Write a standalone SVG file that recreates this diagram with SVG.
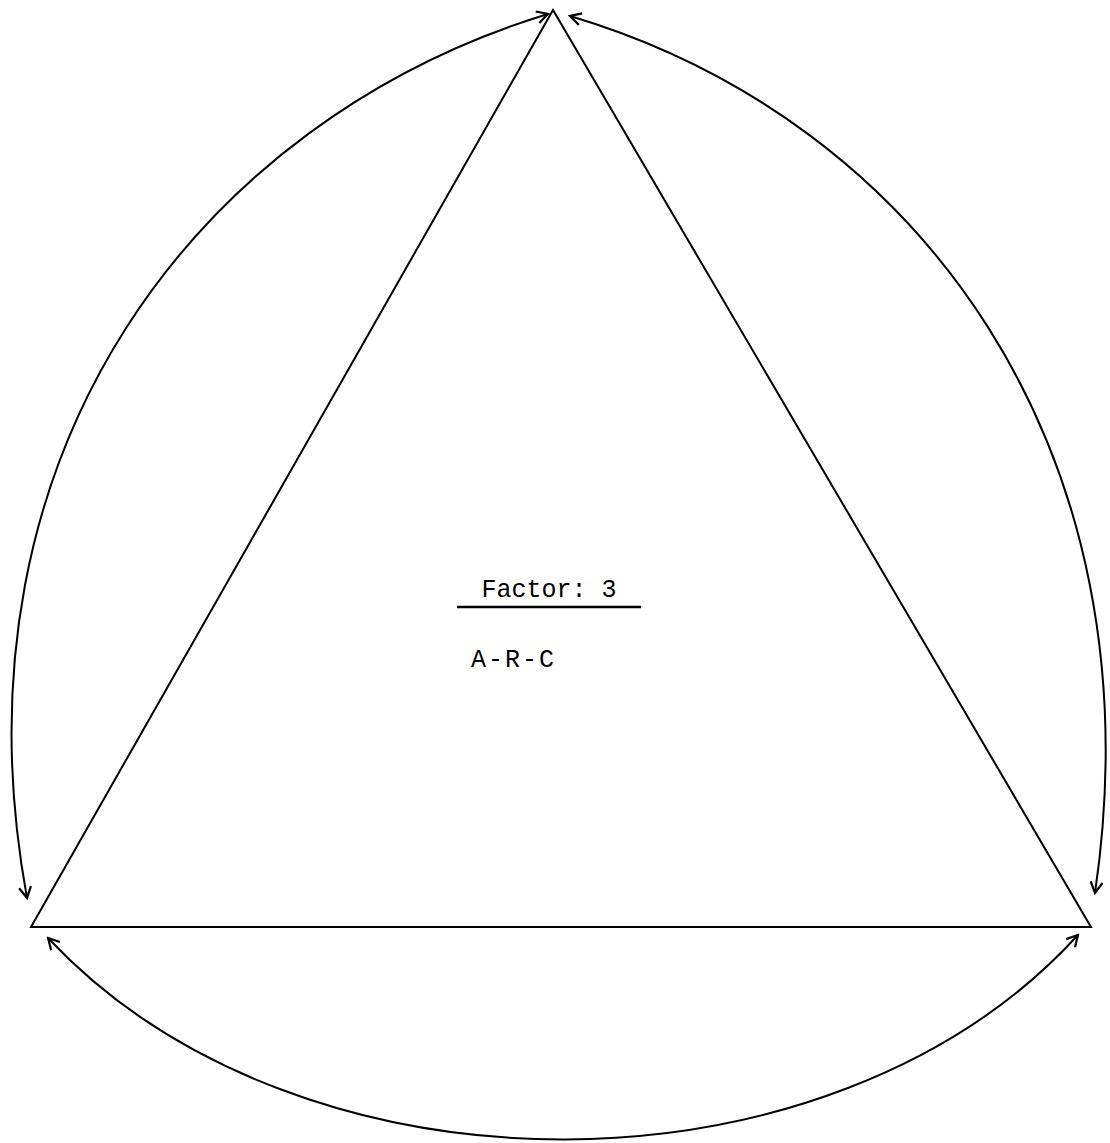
<svg xmlns="http://www.w3.org/2000/svg" width="1110" height="1143" viewBox="0 0 1110 1143">
<style>
.l{fill:none;stroke:#000;stroke-width:2}
.t{font-family:"Liberation Mono","Courier New",monospace;font-size:25px;fill:#000}
</style>
<defs>
<marker id="ah" viewBox="0 0 14 14" refX="12" refY="7" markerWidth="14" markerHeight="14" markerUnits="userSpaceOnUse" orient="auto-start-reverse">
<path d="M1,1 L12,7 L1,13" fill="none" stroke="#000" stroke-width="2.2"/>
</marker>
</defs>
<rect width="1110" height="1143" fill="#fff"/>
<g id="triangle">
<polygon class="l" points="553,10 31,927 1091,927"/>
</g>
<g id="label">
<text class="t" x="549" y="597" text-anchor="middle">Factor: 3</text>
<line x1="457" y1="607" x2="641" y2="607" stroke="#000" stroke-width="2.5"/>
<text class="t" x="471" y="667" letter-spacing="2">A-R-C</text>
</g>
<g id="connectors">
<path class="l" d="M548,14 C200,120 -55,450 27,898" marker-start="url(#ah)" marker-end="url(#ah)"/>
<path class="l" d="M570,16 C920,120 1160,450 1095,893" marker-start="url(#ah)" marker-end="url(#ah)"/>
<path class="l" d="M48,938 C300,1207 830,1207 1078,935" marker-start="url(#ah)" marker-end="url(#ah)"/>
</g>
</svg>
